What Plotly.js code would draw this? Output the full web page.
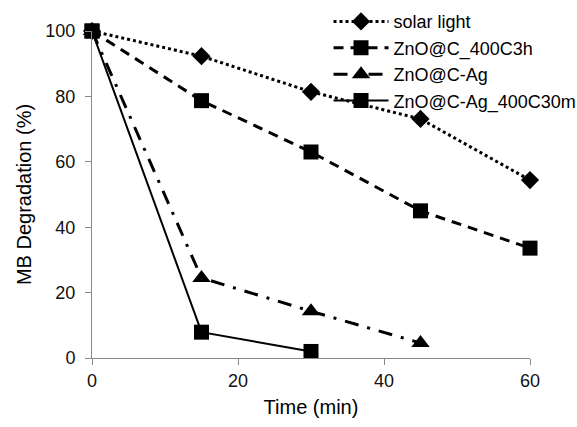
<!DOCTYPE html>
<html>
<head>
<meta charset="utf-8">
<script src="https://cdn.plot.ly/plotly-3.0.1.min.js"></script>
<style>html,body{margin:0;padding:0;background:#fff;}#chart{width:577px;height:427px;}</style>
</head>
<body>
<div id="chart"></div>
<script>
const seriesNames = ["solar light", "ZnO@C_400C3h", "ZnO@C-Ag", "ZnO@C-Ag_400C30m"];
const timeSolar = [0, 15, 30, 45, 60];
const solarLight = [100, 92.3, 81.4, 73.1, 54.4];
const time400C3h = [0, 15, 30, 45, 60];
const zno400C3h = [100, 78.7, 63.0, 45.0, 33.6];
const timeAg = [0, 15, 30, 45];
const znoAg = [100, 24.5, 14.3, 4.6];
const timeAg30m = [0, 15, 30];
const znoAg30m = [100, 7.9, 2.0];

const font = "Liberation Sans, Arial, sans-serif";
const traces = [
  {x: timeSolar, y: solarLight, name: seriesNames[0], mode: "lines+markers",
   line: {color: "#000", width: 3, dash: "dot"},
   marker: {symbol: "diamond", size: 14, color: "#000"}, cliponaxis: false},
  {x: time400C3h, y: zno400C3h, name: seriesNames[1], mode: "lines+markers",
   line: {color: "#000", width: 3, dash: "10px,7px"},
   marker: {symbol: "square", size: 15, color: "#000"}, cliponaxis: false},
  {x: timeAg, y: znoAg, name: seriesNames[2], mode: "lines+markers",
   line: {color: "#000", width: 3, dash: "14px,9px,3px,9px"},
   marker: {symbol: "triangle-up", size: 16, color: "#000"}, cliponaxis: false},
  {x: timeAg30m, y: znoAg30m, name: seriesNames[3], mode: "lines+markers",
   line: {color: "#000", width: 2},
   marker: {symbol: "square", size: 15, color: "#000"}, cliponaxis: false}
];
const layout = {
  width: 577, height: 427,
  margin: {l: 92, r: 47, t: 31, b: 69, autoexpand: false},
  paper_bgcolor: "#fff", plot_bgcolor: "#fff",
  font: {family: font, color: "#000"},
  xaxis: {range: [0, 60], tickvals: [0, 20, 40, 60], showgrid: false, zeroline: false,
    showline: true, linecolor: "#888", linewidth: 1, ticks: "outside", ticklen: 6, tickcolor: "#888",
    tickfont: {size: 18, family: font, color: "#111"},
    title: {text: "Time (min)", font: {size: 20, family: font, color: "#000"}, standoff: 10}},
  yaxis: {range: [0, 100], tickvals: [0, 20, 40, 60, 80, 100], showgrid: false, zeroline: false,
    showline: true, linecolor: "#888", linewidth: 1, ticks: "outside", ticklen: 6, tickcolor: "#888",
    ticklabelstandoff: 6,
    tickfont: {size: 18, family: font, color: "#111"},
    title: {text: "MB Degradation (%)", font: {size: 20, family: font, color: "#000"}, standoff: 8}},
  legend: {x: 0.54, y: 1.085, xanchor: "left", yanchor: "top", bgcolor: "rgba(0,0,0,0)",
    font: {size: 18, family: font, color: "#000"}, itemwidth: 55, tracegroupgap: 0},
  showlegend: true
};
Plotly.newPlot("chart", traces, layout, {displayModeBar: false, staticPlot: true});
</script>
</body>
</html>
